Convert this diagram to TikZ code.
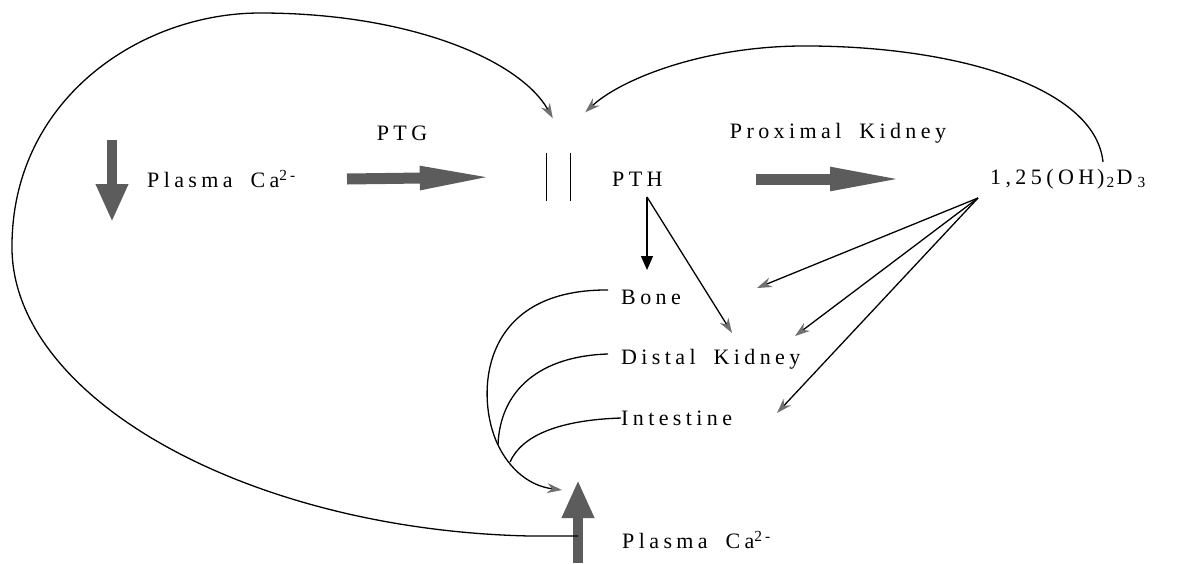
\documentclass[tikz,border=0pt]{standalone}
\usepackage{fontspec}
\setmainfont[LetterSpace=20, WordSpace=1.8]{Liberation Serif}
\usetikzlibrary{arrows.meta}
\definecolor{xGray}{RGB}{92,92,92}
\definecolor{xTip}{RGB}{112,112,112}
\tikzset{
  term/.style={font=\fontsize{22}{26}\selectfont, inner sep=0pt},
  fat/.style={xGray, line width=11pt, -{Triangle[length=77pt, width=21pt]}},
  fatv/.style={xGray, line width=10pt, -{Triangle[length=38pt, width=30pt]}},
  link/.style={line width=1.3pt},
  feed/.style={line width=1.3pt, -{Stealth[length=15pt, width=10pt, color=xTip]}},
  drive/.style={line width=1.3pt, -{Triangle[length=14pt, width=12pt]}},
}

\begin{document}
\begin{tikzpicture}[x=1pt, y=-1pt]
    \useasboundingbox (0,0) rectangle (1177,563);
    \node[term, anchor=west] (lowCa) at (147,179) {Plasma Ca\textsuperscript{2-}};
    \node[term] (ptg) at (402,133) {PTG};
    \node[inner sep=0pt, minimum width=23pt, minimum height=47pt] (gate) at (558.5,177) {};
    \node[term, anchor=west] (pth) at (612,179) {PTH};
    \node[term] (prox) at (838,133) {Proximal Kidney};
    \node[term, anchor=west] (vitd) at (990,179)
         {1,25(OH\kern3pt)\kern2pt\textsubscript{2}\kern2pt D\kern5pt\textsubscript{3}};
    \node[term, anchor=north west] (bone) at (621,290) {Bone};
    \node[term, anchor=north west] (distal) at (621,349) {Distal Kidney};
    \node[term, anchor=west] (gut) at (621,418) {Intestine};
    \node[term, anchor=west] (highCa) at (622,540) {Plasma Ca\textsuperscript{2-}};
    \coordinate (fallTop) at (112,140);
    \coordinate (riseFoot) at (578,563);
    \coordinate (pthFoot) at (647,197);
    \coordinate (vitdFoot) at ([xshift=-12pt,yshift=-19pt]vitd.west);
    \coordinate (gateInL) at ([xshift=6pt,yshift=35pt]gate.north west);
    \coordinate (gateInR) at ([xshift=15pt,yshift=41pt]gate.north east);
    \coordinate (merge) at (562,490);
    % the gland
    \draw[link] (gate.north west) -- (gate.south west);
    \draw[link] (gate.north east) -- (gate.south east);
    % main chain
    \draw[fatv] (fallTop) -- ++(0,82);
    \draw[fat] (lowCa.east -| 347,0) -- ([xshift=-50pt]gate.west);
    \draw[fat] (pth.east -| 756,0) -- ([xshift=-83pt]vitd.west);
    \draw[fatv] (riseFoot) -- ++(0,-83);
    % actions of PTH and of vitamin D
    \draw[drive] (pthFoot) -- ++(0,73);
    \draw[feed] (pthFoot) -- ++(85,136);
    \draw[feed] (vitdFoot) -- ++(-221,90);
    \draw[feed] (vitdFoot) -- ++(-183,138);
    \draw[feed] (vitdFoot) -- ++(-201,215);
    % back to plasma
    \draw[feed] ([xshift=-13pt]bone.north west) .. controls (476,289) and (476,400) .. (498,445)
                .. controls (510,470) and (530,486) .. (merge);
    \draw[link] ([xshift=-13pt,yshift=-5pt]distal.north west) .. controls (540,356) and (500,390) .. (498,445);
    \draw[link] (gut.west) .. controls (560,420) and (522,435) .. (510,462);
    % feedback loops
    \draw[feed] ([yshift=27pt]riseFoot) -- ++(-48,0)
                .. controls (250,530) and (15,400) .. (12,250)
                .. controls (10,100) and (140,13) .. (260,13)
                .. controls (410,13) and (520,60) .. (gateInL);
    \draw[feed] (1103,162) .. controls (1095,85) and (950,45) .. (800,46)
                .. controls (700,47) and (620,80) .. (gateInR);
  \end{tikzpicture}
\end{document}
